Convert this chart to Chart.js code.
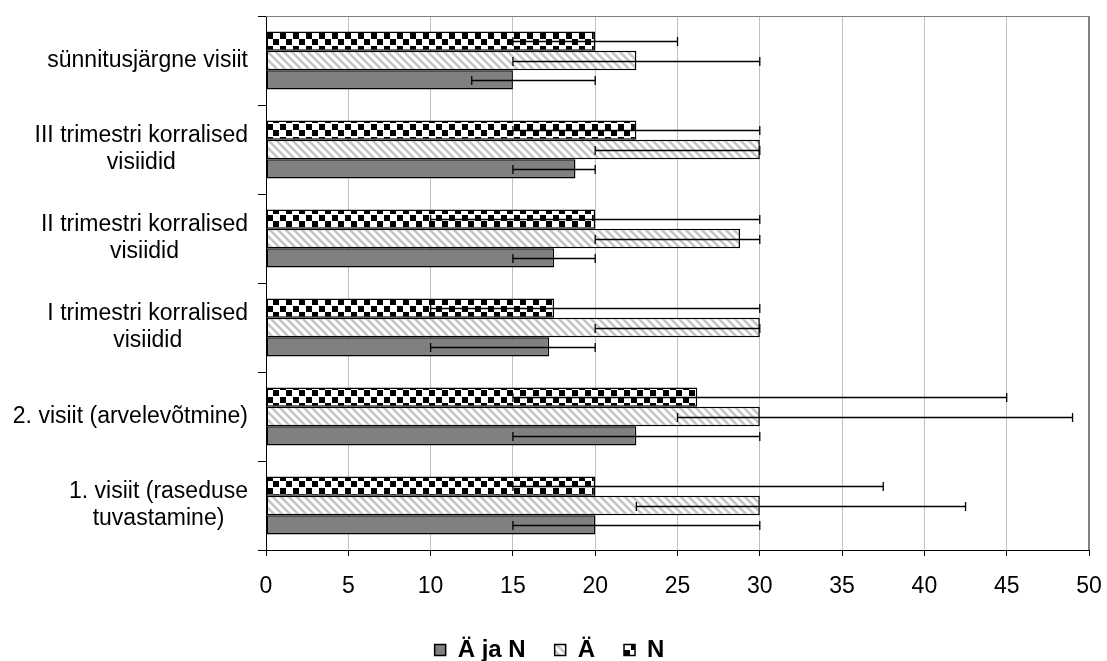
<!DOCTYPE html>
<html>
<head>
<meta charset="utf-8">
<script src="https://cdn.jsdelivr.net/npm/chart.js@4.4.1/dist/chart.umd.min.js"></script>
<style>
  html, body { margin: 0; padding: 0; background: #fff; }
</style>
</head>
<body>
<canvas id="chart" width="1107" height="661"></canvas>
<script>
// ─── Andmed (ülevalt alla, nagu joonisel) ───
const categories = [
    'sünnitusjärgne visiit',
    ['III trimestri korralised', 'visiidid'],
    ['II trimestri korralised', 'visiidid'],
    ['I trimestri korralised', 'visiidid'],
    '2. visiit (arvelevõtmine)',
    ['1. visiit (raseduse', 'tuvastamine)']
];

const valuesAjaN = [15, 18.8, 17.5, 17.2, 22.5, 20];
const lowAjaN    = [12.5, 15, 15, 10, 15, 15];
const highAjaN   = [20, 20, 20, 20, 30, 30];

const valuesA = [22.5, 30, 28.8, 30, 30, 30];
const lowA    = [15, 20, 20, 20, 25, 22.5];
const highA   = [30, 30, 30, 30, 49, 42.5];

const valuesN = [20, 22.5, 20, 17.5, 26.2, 20];
const lowN    = [15, 15, 10, 10, 15, 15];
const highN   = [25, 30, 30, 30, 45, 37.5];

const xMin = 0, xMax = 50, xStep = 5;

const FONT = '"Liberation Sans", Arial, sans-serif';

const canvas = document.getElementById('chart');
const ctx = canvas.getContext('2d');

// viirutus: hall diagonaal valgel
function hatchPattern() {
    const c = document.createElement('canvas');
    c.width = 8; c.height = 8;
    const g = c.getContext('2d');
    g.fillStyle = '#fff';
    g.fillRect(0, 0, 8, 8);
    g.strokeStyle = '#c4c4c4';
    g.lineWidth = 2.6;
    g.beginPath();
    g.moveTo(-2, -2); g.lineTo(10, 10);
    g.moveTo(-2, 6); g.lineTo(2, 10);
    g.moveTo(6, -2); g.lineTo(10, 2);
    g.stroke();
    return ctx.createPattern(c, 'repeat');
}

// male: mustad ruudud valgel
function checkerPattern() {
    const c = document.createElement('canvas');
    c.width = 13; c.height = 13;
    const g = c.getContext('2d');
    g.fillStyle = '#fff';
    g.fillRect(0, 0, 13, 13);
    g.fillStyle = '#000';
    g.fillRect(0, 0, 6, 6);
    g.fillRect(7, 7, 6, 6);
    return ctx.createPattern(c, 'repeat');
}

// vearibad (min–max) iga tulba keskjoonel
const errorBars = {
    id: 'errorBars',
    afterDatasetsDraw(chart) {
        const x = chart.scales.x;
        const c = chart.ctx;
        c.save();
        c.strokeStyle = '#000';
        c.lineWidth = 1.3;
        chart.data.datasets.forEach((ds, di) => {
            const meta = chart.getDatasetMeta(di);
            meta.data.forEach((bar, i) => {
                const x1 = x.getPixelForValue(ds.errLow[i]);
                const x2 = x.getPixelForValue(ds.errHigh[i]);
                const y = Math.round(bar.y) + 0.5;
                c.beginPath();
                c.moveTo(x1, y); c.lineTo(x2, y);
                c.moveTo(x1, y - 4.5); c.lineTo(x1, y + 4.5);
                c.moveTo(x2, y - 4.5); c.lineTo(x2, y + 4.5);
                c.stroke();
            });
        });
        c.restore();
    }
};

// joonise ala hall raam (üleval ja paremal)
const plotFrame = {
    id: 'plotFrame',
    beforeDatasetsDraw(chart) {
        const {ctx: c, chartArea: a} = chart;
        c.save();
        c.strokeStyle = '#808080';
        c.lineWidth = 1;
        c.beginPath();
        c.moveTo(a.left, a.top + 0.5); c.lineTo(a.right, a.top + 0.5);
        c.stroke();
        c.lineWidth = 2;
        c.beginPath();
        c.moveTo(a.right, a.top); c.lineTo(a.right, a.bottom);
        c.stroke();
        c.restore();
    }
};

// kategooriate sildid: plokk paremale joondatud, read keskele
const categoryLabels = {
    id: 'categoryLabels',
    afterDraw(chart) {
        const y = chart.scales.y;
        const c = chart.ctx;
        const right = 248, lh = 27;
        c.save();
        c.font = '23px ' + FONT;
        c.fillStyle = '#000';
        c.textAlign = 'center';
        c.textBaseline = 'middle';
        chart.data.labels.forEach((lab, i) => {
            const lines = Array.isArray(lab) ? lab : [lab];
            const w = Math.max(...lines.map(l => c.measureText(l).width));
            const cx = right - w / 2;
            const cy = y.getPixelForValue(i);
            lines.forEach((l, j) => {
                c.fillText(l, cx, cy + (j - (lines.length - 1) / 2) * lh);
            });
        });
        c.restore();
    }
};

new Chart(ctx, {
    type: 'bar',
    data: {
        labels: categories,
        datasets: [
            {
                label: 'N', data: valuesN, errLow: lowN, errHigh: highN,
                backgroundColor: checkerPattern(), borderColor: '#000'
            },
            {
                label: 'Ä', data: valuesA, errLow: lowA, errHigh: highA,
                backgroundColor: hatchPattern(), borderColor: '#000'
            },
            {
                label: 'Ä ja N', data: valuesAjaN, errLow: lowAjaN, errHigh: highAjaN,
                backgroundColor: '#808080', borderColor: '#000'
            }
        ]
    },
    options: {
        indexAxis: 'y',
        responsive: false,
        animation: false,
        layout: { padding: { left: 10, top: 16, right: 18, bottom: -11 } },
        datasets: {
            bar: {
                categoryPercentage: 0.65,
                barPercentage: 1,
                borderWidth: 1.5,
                borderSkipped: false
            }
        },
        scales: {
            x: {
                min: xMin,
                max: xMax,
                ticks: {
                    stepSize: xStep,
                    color: '#000',
                    padding: 4,
                    maxRotation: 0,
                    font: { family: FONT, size: 23, lineHeight: 2.35 }
                },
                grid: { color: '#c0c0c0', tickColor: '#000', tickLength: 6 },
                border: { color: '#000', width: 1 },
                afterFit(s) { s.height = 59; }
            },
            y: {
                ticks: { display: false },
                grid: { drawOnChartArea: false, color: '#000', tickLength: 8, offset: true },
                border: { color: '#000', width: 1 },
                afterFit(s) { s.width = 256; }
            }
        },
        plugins: {
            legend: {
                position: 'bottom',
                reverse: true,
                labels: {
                    boxWidth: 11,
                    boxHeight: 11,
                    padding: 29,
                    color: '#000',
                    font: { family: FONT, size: 24, weight: 'bold' }
                }
            },
            tooltip: { enabled: false }
        }
    },
    plugins: [plotFrame, errorBars, categoryLabels]
});
</script>
</body>
</html>
